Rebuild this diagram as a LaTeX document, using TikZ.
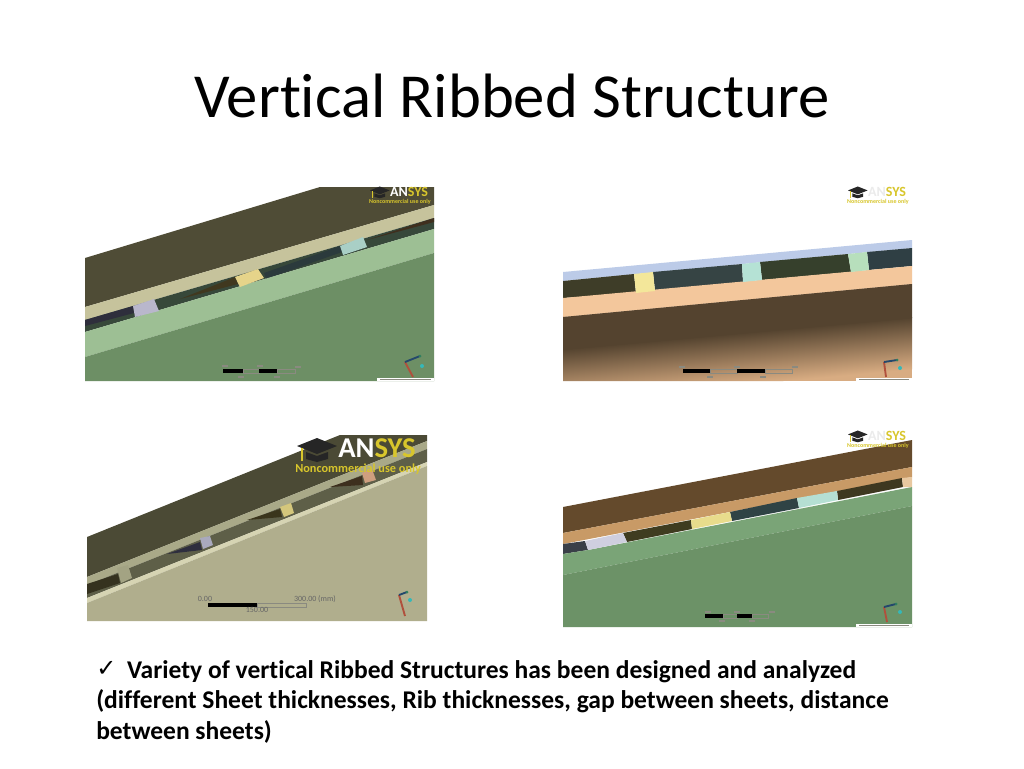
\documentclass[tikz,border=0pt]{standalone}
\usepackage{fontspec}
\setmainfont[RawFeature={-liga}]{Carlito}
\newfontfamily\symbolfont{DejaVu Sans}
\newcommand{\pixelsize}{0.75pt}
% logo: x, y, scale, colour of the first letters
\newcommand{\makelogo}[4]{
	\begin{scope}[shift={(#1,#2)},scale=#3]
	\fill[black!85] (0,9) -- (20,1) -- (40,9) -- (20,17) -- cycle;
	\fill[black!85] (9,15) -- (20,19) -- (31,15) -- (31,22) -- (20,25) -- (9,22) -- cycle;
	\draw[logoyellow,line width=1] (5,11) -- (5,24);
	\node[logotext,text=#4,anchor=base west] at (41,20.5) {AN\textcolor{logoyellow}{SYS}};
	\node[logotext,text=logoyellow,anchor=base west,font=\bfseries\fontsize{9.2}{10}\selectfont] at (-2,35) {Noncommercial use only};
	\end{scope}
}
% scale bar piece: black from #1 to #2, outlined from #2 to #3, top edge #4, height #5
\newcommand{\makebar}[5]{
	\fill[black] (#1,#4) rectangle (#2,#4+#5);
	\draw[tickgray,line width=0.5] (#2,#4) rectangle (#3,#4+#5);
}
% axes: origin x, y, then red end, blue end, cyan dot
\newcommand{\maketriad}[8]{
	\draw[arrowred,line width=1.4] (#1,#2) -- (#3,#4);
	\draw[arrowblue,line width=1.4] (#1,#2) -- (#5,#6);
	\fill[arrowgreen] (#5,#6) circle (1.5);
	\fill[arrowcyan] (#7,#8) circle (2);
}
\newcommand{\maketag}[3]{
	\fill[white] (#1,#3) rectangle (#2,#3+3);
	\draw[tickgray,line width=0.5] (#1+3,#3+1.5) -- (#2-3,#3+1.5);
}
\definecolor{logoyellow}{HTML}{D8C62C}
\definecolor{tickgray}{HTML}{8A8A80}
\definecolor{arrowred}{HTML}{B0503C}
\definecolor{arrowblue}{HTML}{24486C}
\definecolor{arrowcyan}{HTML}{35B8B8}
\definecolor{arrowgreen}{HTML}{2F7F5F}
\definecolor{shadedark}{HTML}{54432F}
\definecolor{shadetan}{HTML}{D8AC82}
\tikzset{
	hexfill/.code={\definecolor{hexcolor}{HTML}{#1}\tikzset{fill=hexcolor}},
	logotext/.style={inner sep=0,transform shape,font=\bfseries\fontsize{21.5}{22}\selectfont},
	smalltext/.style={inner sep=0,text=black!60,font=\fontsize{6}{6}\selectfont},
	smudge/.style={tickgray,line width=1.2},
	slanted/.style={transform canvas={rotate around={5.2:(737,333)}}}
}

\begin{document}
\begin{tikzpicture}[x=\pixelsize,y=-\pixelsize]
	\useasboundingbox (0,0) rectangle (1024,768);
	\fill[white] (0,0) rectangle (1024,768);

	\node (title) at (512,96) {\fontsize{47}{50}\selectfont Vertical Ribbed Structure};

	% top left
	\fill[hexfill=4F4C36] (85,258) -- (320,187) -- (434,187) -- (434,205) -- (85,307) -- cycle;
	\fill[hexfill=C6C39C] (85,307) -- (434,205) -- (434,218) -- (85,320) -- cycle;
	\fill[hexfill=37483A] (85,320) -- (434,218) -- (434,229) -- (85,332) -- cycle;
	\fill[hexfill=2E2E3C] (85,320) -- (133,306) -- (134,313) -- (85,326) -- cycle;
	\fill[hexfill=40381F] (180,299) -- (235,277) -- (238,284) -- cycle;
	\fill[hexfill=2B3A3C] (264,273) -- (340,246) -- (342,252) -- (266,279) -- cycle;
	\fill[hexfill=3F2F1E] (367,240) -- (434,218) -- (434,222) -- cycle;
	\fill[hexfill=9DBF94] (85,332) -- (434,229) -- (434,253) -- (85,357) -- cycle;
	\fill[hexfill=6D8F65] (85,357) -- (434,253) -- (434,381) -- (85,381) -- cycle;
	\fill[hexfill=B9B7CC] (133,306) -- (154,299) -- (159,311) -- (135,317) -- cycle;
	\fill[hexfill=E6D48A] (235,277) -- (258,269) -- (264,278) -- (240,287) -- cycle;
	\fill[hexfill=A9CFC6] (340,246) -- (363,237) -- (367,247) -- (343,255) -- cycle;
	\makelogo{370}{186}{0.49}{white}
	\makebar{223}{243}{259}{369}{4}
	\makebar{259}{277}{295}{369}{4}
	\foreach \x/\y in {225/366,260/366,298/367,241/377,277/377}
		\draw[smudge] (\x-3,\y) -- (\x+3,\y);
	\maketriad{405}{362}{413}{377}{420}{356}{422}{366}
	\maketag{377}{434}{378}

	% top right
	\fill[hexfill=BCCBE8] (563,272) -- (912,240) -- (912,248) -- (563,281) -- cycle;
	\fill[hexfill=3E3D28] (563,281) -- (634,274) -- (636,293) -- (563,298) -- cycle;
	\fill[hexfill=364444] (653,272) -- (742,264) -- (743,282) -- (655,291) -- cycle;
	\fill[hexfill=36402C] (760,262) -- (848,254) -- (851,272) -- (762,280) -- cycle;
	\fill[hexfill=2F3F44] (867,252) -- (912,248) -- (912,266) -- (869,270) -- cycle;
	\fill[hexfill=F3C79C] (563,298) -- (912,266) -- (912,284) -- (563,317) -- cycle;
	\begin{scope}
	\clip (563,317) -- (912,284) -- (912,381) -- (563,381) -- cycle;
	\fill[shadetan] (563,284) rectangle (912,381);
	\shade[top color=shadedark,bottom color=shadetan,slanted] (500,333) rectangle (980,385);
	\fill[shadedark,slanted] (500,230) rectangle (980,334);
	\end{scope}
	\fill[hexfill=F3E79A] (634,274) -- (653,272) -- (655,291) -- (636,293) -- cycle;
	\fill[hexfill=B5E2D5] (742,264) -- (760,262) -- (762,280) -- (743,282) -- cycle;
	\fill[hexfill=B7DFBC] (848,254) -- (867,252) -- (869,270) -- (851,272) -- cycle;
	\makelogo{848}{186}{0.49}{black!8}
	\makebar{683}{710}{737}{369}{4}
	\makebar{737}{765}{792}{369}{4}
	\foreach \x/\y in {682/367,737/367,795/367,710/377,763/377}
		\draw[smudge] (\x-3,\y) -- (\x+3,\y);
	\maketriad{884}{362}{886}{377}{897}{360}{900}{368}
	\maketag{856}{912}{378}

	% bottom left
	\fill[hexfill=4B4A35] (87,537) -- (340,435) -- (427,435) -- (427,441) -- (87,577) -- cycle;
	\fill[hexfill=A9A988] (87,577) -- (427,441) -- (427,449) -- (87,585) -- cycle;
	\fill[hexfill=5E5F48] (87,585) -- (427,449) -- (427,462) -- (87,598) -- cycle;
	\fill[hexfill=35321F] (87,584) -- (118,574) -- (120,583) -- (87,594) -- cycle;
	\fill[hexfill=2E2E3E] (167,554) -- (200,542) -- (202,550) -- cycle;
	\fill[hexfill=3A351C] (247,520) -- (280,509) -- (282,517) -- cycle;
	\fill[hexfill=3D2F1E] (330,487) -- (362,476) -- (363,485) -- cycle;
	\fill[hexfill=D6D4B3] (87,598) -- (427,462) -- (427,466) -- (87,603) -- cycle;
	\fill[hexfill=B0AE8D] (87,603) -- (427,466) -- (427,621) -- (87,621) -- cycle;
	\fill[hexfill=A3A383] (117,568) -- (128,565) -- (132,578) -- (121,583) -- cycle;
	\fill[hexfill=A9A9BD] (200,538) -- (210,536) -- (213,545) -- (203,549) -- cycle;
	\fill[hexfill=D4C77C] (280,507) -- (291,503) -- (294,513) -- (284,517) -- cycle;
	\fill[hexfill=CF9F7F] (362,473) -- (372,469) -- (376,480) -- (365,483) -- cycle;
	\makelogo{297}{437}{1}{white}
	\makebar{208}{257}{306}{603}{4}
	\node[smalltext] (low) at (205,599) {0.00};
	\node[smalltext] (high) at (315,599) {300.00 (mm)};
	\node[smalltext] (mid) at (257,610) {150.00};
	\maketriad{399}{595}{405}{616}{407}{592}{410}{600}

	% bottom right
	\fill[hexfill=644A2C] (563,507) -- (912,440) -- (912,467) -- (563,533) -- cycle;
	\fill[hexfill=C89A66] (563,533) -- (912,467) -- (912,477) -- (563,544) -- cycle;
	\fill[hexfill=3A3F48] (563,544) -- (585,541) -- (588,550) -- (563,554) -- cycle;
	\fill[hexfill=3F3C20] (623,533) -- (691,520) -- (692,529) -- (627,542) -- cycle;
	\fill[hexfill=2F4345] (730,512) -- (797,498) -- (799,508) -- (732,521) -- cycle;
	\fill[hexfill=3E3820] (837,491) -- (902,478) -- (903,487) -- (838,500) -- cycle;
	\fill[hexfill=7AA477] (563,554) -- (588,550) -- (912,487) -- (912,506) -- (563,575) -- cycle;
	\fill[hexfill=6C9267] (563,575) -- (912,506) -- (912,627) -- (563,627) -- cycle;
	\fill[hexfill=CFCFDF] (585,541) -- (623,533) -- (627,542) -- (588,550) -- cycle;
	\fill[hexfill=E8DC8C] (691,520) -- (730,512) -- (732,521) -- (692,529) -- cycle;
	\fill[hexfill=B5DFD3] (797,498) -- (837,491) -- (838,500) -- (799,508) -- cycle;
	\fill[hexfill=E8C8A0] (902,478) -- (912,477) -- (912,487) -- (903,487) -- cycle;
	\makelogo{848}{430}{0.49}{black!8}
	\makebar{705}{723}{737}{614}{4}
	\makebar{737}{752}{768}{614}{4}
	\foreach \x/\y in {708/612,737/612,772/612,722/621,752/621}
		\draw[smudge] (\x-3,\y) -- (\x+3,\y);
	\maketriad{884}{607}{887}{622}{896}{604}{900}{612}
	\maketag{856}{912}{624}

	\node[anchor=north west,inner sep=0,align=left,font=\bfseries\fontsize{19.15}{23}\selectfont] (body) at (96,660)
		{\raisebox{1.5pt}{\symbolfont\mdseries\fontsize{18}{23}\selectfont ✓}\hspace{8pt}Variety of vertical Ribbed Structures has been designed and analyzed\\
		(different Sheet thicknesses, Rib thicknesses, gap between sheets, distance\\
		between sheets)};
\end{tikzpicture}
\end{document}
